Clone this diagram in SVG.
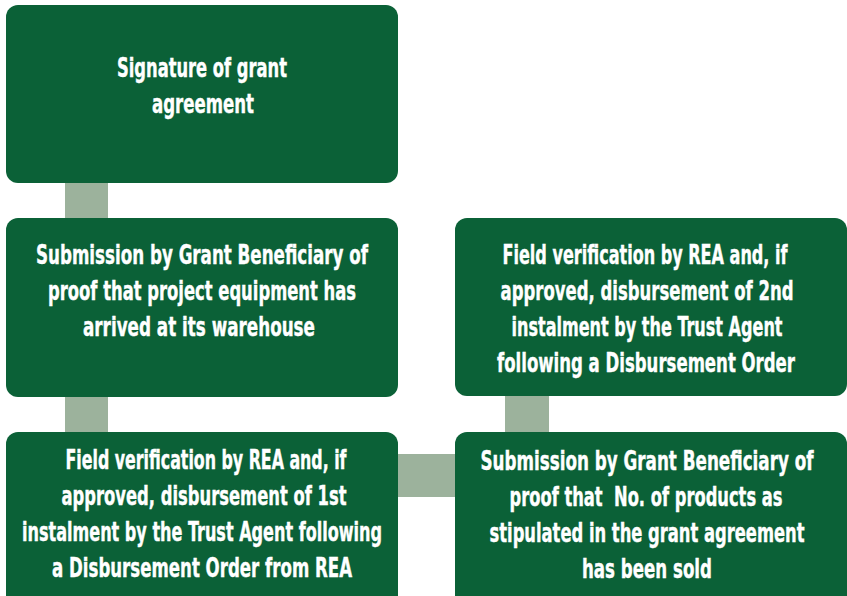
<svg xmlns="http://www.w3.org/2000/svg" width="847" height="596" viewBox="0 0 847 596">
  <style>
    .box { fill: #0b6137; }
    .conn { fill: #9cb29c; }
    .t { fill: #ffffff; stroke: #ffffff; stroke-width: 0.3px; font-family: "DejaVu Sans Condensed", "Liberation Sans Narrow", "Roboto", sans-serif; font-weight: bold; font-size: 19px; text-anchor: middle; }
  </style>
  <rect width="847" height="596" fill="#ffffff"/>
  <g id="connectors">
    <rect class="conn" x="65" y="180" width="43" height="42"/>
    <rect class="conn" x="65" y="393" width="43" height="43"/>
    <rect class="conn" x="395" y="454" width="64" height="43"/>
    <rect class="conn" x="505" y="393" width="44" height="43"/>
  </g>
  <g id="node1">
    <rect class="box" x="6" y="5" width="392" height="178" rx="12"/>
    <text class="t" transform="translate(202,77) scale(1,1.4)" textLength="170" lengthAdjust="spacingAndGlyphs">Signature of grant</text>
    <text class="t" transform="translate(203,113) scale(1,1.4)" textLength="102" lengthAdjust="spacingAndGlyphs">agreement</text>
  </g>
  <g id="node2">
    <rect class="box" x="6" y="218" width="392" height="179" rx="12"/>
    <text class="t" transform="translate(202,264) scale(1,1.4)" textLength="332" lengthAdjust="spacingAndGlyphs">Submission by Grant Beneficiary of</text>
    <text class="t" transform="translate(202,300) scale(1,1.4)" textLength="308" lengthAdjust="spacingAndGlyphs">proof that project equipment has</text>
    <text class="t" transform="translate(199,336) scale(1,1.4)" textLength="232" lengthAdjust="spacingAndGlyphs">arrived at its warehouse</text>
  </g>
  <g id="node3">
    <rect class="box" x="6" y="432" width="392" height="180" rx="12"/>
    <text class="t" transform="translate(206,469) scale(1,1.4)" textLength="281" lengthAdjust="spacingAndGlyphs">Field verification by REA and, if</text>
    <text class="t" transform="translate(204,505) scale(1,1.4)" textLength="285" lengthAdjust="spacingAndGlyphs">approved, disbursement of 1st</text>
    <text class="t" transform="translate(202,541) scale(1,1.4)" textLength="360" lengthAdjust="spacingAndGlyphs">instalment by the Trust Agent following</text>
    <text class="t" transform="translate(202,577) scale(1,1.4)" textLength="300" lengthAdjust="spacingAndGlyphs">a Disbursement Order from REA</text>
  </g>
  <g id="node4">
    <rect class="box" x="455" y="218" width="392" height="178" rx="12"/>
    <text class="t" transform="translate(645,264) scale(1,1.4)" textLength="285" lengthAdjust="spacingAndGlyphs">Field verification by REA and, if</text>
    <text class="t" transform="translate(647,300) scale(1,1.4)" textLength="293" lengthAdjust="spacingAndGlyphs">approved, disbursement of 2nd</text>
    <text class="t" transform="translate(647,336) scale(1,1.4)" textLength="271" lengthAdjust="spacingAndGlyphs">instalment by the Trust Agent</text>
    <text class="t" transform="translate(646,372) scale(1,1.4)" textLength="298" lengthAdjust="spacingAndGlyphs">following a Disbursement Order</text>
  </g>
  <g id="node5">
    <rect class="box" x="455" y="432" width="392" height="180" rx="12"/>
    <text class="t" transform="translate(647,470) scale(1,1.4)" textLength="333" lengthAdjust="spacingAndGlyphs">Submission by Grant Beneficiary of</text>
    <text class="t" transform="translate(646,506) scale(1,1.4)" textLength="273" lengthAdjust="spacingAndGlyphs" xml:space="preserve">proof that  No. of products as</text>
    <text class="t" transform="translate(647,542) scale(1,1.4)" textLength="315" lengthAdjust="spacingAndGlyphs">stipulated in the grant agreement</text>
    <text class="t" transform="translate(647,578) scale(1,1.4)" textLength="130" lengthAdjust="spacingAndGlyphs">has been sold</text>
  </g>
</svg>
